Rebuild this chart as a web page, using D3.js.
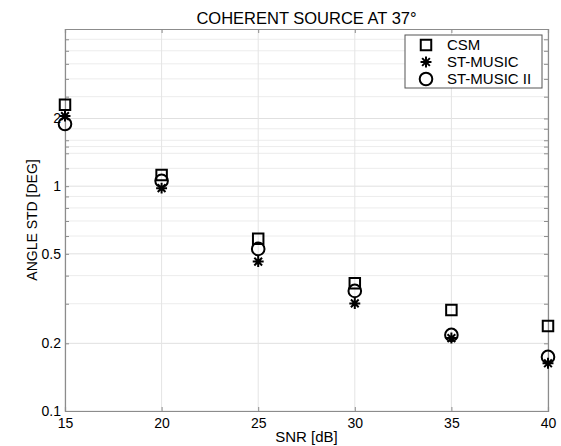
<!DOCTYPE html>
<html lang="en">
<head>
<meta charset="UTF-8">
<title>Coherent source at 37°</title>
<script src="https://d3js.org/d3.v7.min.js"></script>
<style>
  body { margin: 0; background: #fff; font-family: "Liberation Sans", Arial, sans-serif; }
  svg text { fill: #000; }
</style>
</head>
<body>
<div id="chart"></div>
<script>
// data
var snr = [15, 20, 25, 30, 35, 40];
var csm = [2.30, 1.12, 0.583, 0.370, 0.281, 0.239];
var stMusic = [2.05, 0.98, 0.462, 0.301, 0.211, 0.163];
var stMusic2 = [1.89, 1.056, 0.526, 0.342, 0.218, 0.174];
var seriesNames = ["CSM", "ST-MUSIC", "ST-MUSIC II"];
var xTicks = [15, 20, 25, 30, 35, 40];
var yTicks = [0.1, 0.2, 0.5, 1, 2];
var yMinor = [0.3, 0.4, 0.6, 0.7, 0.8, 0.9, 1.2, 1.4, 1.5, 1.6, 1.8, 2.5, 3, 3.5, 4, 4.5];

var width = 561, height = 446;
var margin = { left: 65, right: 13, top: 29, bottom: 35 };

var svg = d3.select("#chart").append("svg")
    .attr("width", width)
    .attr("height", height);

var x = d3.scaleLinear().domain([15, 40]).range([margin.left, width - margin.right]);
var y = d3.scaleLog().domain([0.1, 5]).range([height - margin.bottom, margin.top]);

var x0 = x.range()[0], x1 = x.range()[1], y0 = y.range()[0], y1 = y.range()[1];

// grid
var grid = svg.append("g");
grid.selectAll(".ygm").data(yMinor).enter().append("line")
    .attr("x1", x0).attr("x2", x1)
    .attr("y1", function(d) { return y(d); }).attr("y2", function(d) { return y(d); })
    .attr("stroke", "#ececec").attr("stroke-width", 1);
grid.selectAll(".yg").data(yTicks).enter().append("line")
    .attr("x1", x0).attr("x2", x1)
    .attr("y1", function(d) { return y(d); }).attr("y2", function(d) { return y(d); })
    .attr("stroke", "#e0e0e0").attr("stroke-width", 1);
grid.selectAll(".xg").data(xTicks).enter().append("line")
    .attr("y1", y0).attr("y2", y1)
    .attr("x1", function(d) { return x(d); }).attr("x2", function(d) { return x(d); })
    .attr("stroke", "#e4e4e4").attr("stroke-width", 1);

// axes
var axisColor = "#8c8c8c";
var xAxis = svg.append("g").attr("transform", "translate(0," + y0 + ")")
    .call(d3.axisBottom(x).tickValues(xTicks).tickSize(-4).tickPadding(7));
var xAxisTop = svg.append("g").attr("transform", "translate(0," + y1 + ")")
    .call(d3.axisTop(x).tickValues(xTicks).tickSize(-4).tickFormat(""));
var yAxis = svg.append("g").attr("transform", "translate(" + x0 + ",0)")
    .call(d3.axisLeft(y).tickValues(yTicks.concat(yMinor)).tickSize(-4).tickPadding(4)
        .tickFormat(function(d) { return yTicks.indexOf(d) >= 0 ? d3.format("")(d) : ""; }));
var yAxisRight = svg.append("g").attr("transform", "translate(" + x1 + ",0)")
    .call(d3.axisRight(y).tickValues(yTicks.concat(yMinor)).tickSize(-4).tickFormat(""));

[xAxis, xAxisTop, yAxis, yAxisRight].forEach(function(a) {
  a.select(".domain").attr("stroke", axisColor).attr("stroke-width", 1.2);
  a.selectAll(".tick line").attr("stroke", axisColor);
  a.selectAll(".tick text").attr("font-size", 14).attr("font-family", "Liberation Sans, Arial, sans-serif").attr("fill", "#000");
});

// titles
svg.append("text").attr("x", (x0 + x1) / 2).attr("y", 24)
    .attr("text-anchor", "middle").attr("font-size", 16.5).text("COHERENT SOURCE AT 37°");
svg.append("text").attr("x", (x0 + x1) / 2).attr("y", 442)
    .attr("text-anchor", "middle").attr("font-size", 15).text("SNR [dB]");
svg.append("text").attr("transform", "translate(37," + (y0 + y1) / 2 + ") rotate(-90)")
    .attr("text-anchor", "middle").attr("font-size", 14).text("ANGLE STD [DEG]");

// matlab-style '*' marker: plus + cross
var asterisk8 = {
  draw: function(ctx, size) {
    var r = Math.sqrt(size) / 2, c = r * Math.SQRT1_2;
    ctx.moveTo(-r, 0); ctx.lineTo(r, 0);
    ctx.moveTo(0, -r); ctx.lineTo(0, r);
    ctx.moveTo(-c, -c); ctx.lineTo(c, c);
    ctx.moveTo(-c, c); ctx.lineTo(c, -c);
  }
};

// markers
var sq = d3.symbol().type(d3.symbolSquare).size(110);
var star = d3.symbol().type(asterisk8).size(120);
var circ = d3.symbol().type(d3.symbolCircle).size(125);
var series = [
  { name: seriesNames[0], values: csm, sym: sq },
  { name: seriesNames[1], values: stMusic, sym: star },
  { name: seriesNames[2], values: stMusic2, sym: circ }
];

series.forEach(function(s) {
  svg.append("g").selectAll("path").data(s.values).enter().append("path")
      .attr("d", s.sym())
      .attr("transform", function(d, i) { return "translate(" + x(snr[i]) + "," + y(d) + ")"; })
      .attr("fill", "none").attr("stroke", "#000").attr("stroke-width", 2);
});

// legend
var legend = svg.append("g").attr("transform", "translate(405,35)");
legend.append("rect").attr("width", 137).attr("height", 53)
    .attr("fill", "#fff").attr("stroke", "#555").attr("stroke-width", 1);
series.forEach(function(s, i) {
  var yy = 10 + i * 17;
  legend.append("path").attr("d", s.sym())
      .attr("transform", "translate(21," + yy + ")")
      .attr("fill", "none").attr("stroke", "#000").attr("stroke-width", 2);
  legend.append("text").attr("x", 42).attr("y", yy + 5)
      .attr("font-size", 15).text(s.name);
});
</script>
</body>
</html>
